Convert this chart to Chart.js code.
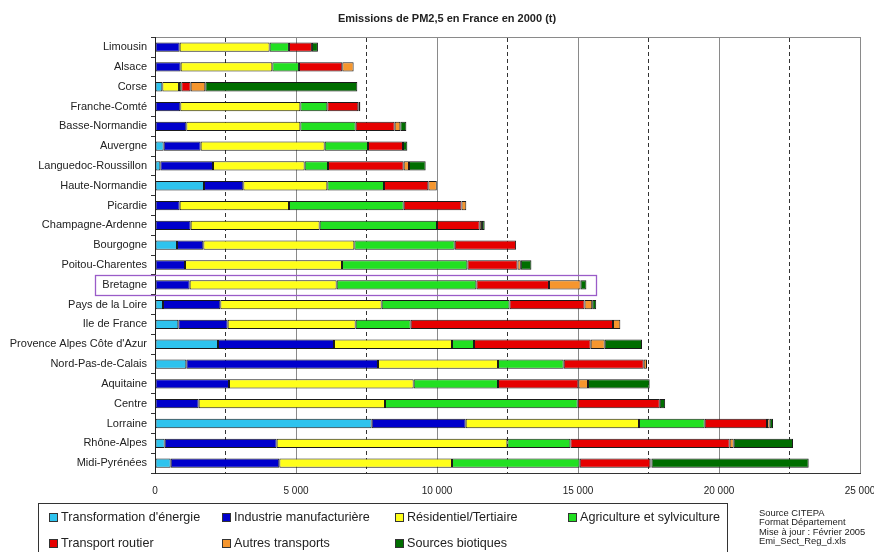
<!DOCTYPE html>
<html>
<head>
<meta charset="utf-8">
<script src="https://cdn.jsdelivr.net/npm/chart.js@4.4.1/dist/chart.umd.min.js"></script>
<style>
  html, body { margin:0; padding:0; background:#fff; overflow:hidden; width:874px; height:552px; }
  #wrap { position:relative; width:874px; height:552px; }
  canvas { position:absolute; left:0; top:0; }
  #legend { position:absolute; left:38px; top:503px; width:690px; height:60px; border:1px solid #333;
            box-sizing:border-box; padding:0 0 0 10px; display:grid; grid-template-columns:repeat(4,173px);
            grid-auto-rows:26px; font-family:"Liberation Sans", Arial, sans-serif; font-size:12.6px; color:#222; }
  #legend .it { display:flex; align-items:center; white-space:nowrap; }
  #legend .sw { width:7px; height:7px; border:1px solid #333; margin-right:3px; flex:none; }
  #source { position:absolute; left:759px; top:508px; font-family:"Liberation Sans", Arial, sans-serif;
            font-size:9.4px; line-height:9.4px; color:#222; white-space:nowrap; }
</style>
</head>
<body>
<div id="wrap">
  <canvas id="c" width="874" height="552"></canvas>
  <div id="legend"></div>
  <div id="source"></div>
</div>
<script>
const chartTitle = "Emissions de PM2,5 en France en 2000 (t)";
const regions = ["Limousin","Alsace","Corse","Franche-Comté","Basse-Normandie","Auvergne","Languedoc-Roussillon",
  "Haute-Normandie","Picardie","Champagne-Ardenne","Bourgogne","Poitou-Charentes","Bretagne","Pays de la Loire",
  "Ile de France","Provence Alpes Côte d'Azur","Nord-Pas-de-Calais","Aquitaine","Centre","Lorraine","Rhône-Alpes","Midi-Pyrénées"];
const seriesNames = ["Transformation d'énergie","Industrie manufacturière","Résidentiel/Tertiaire",
  "Agriculture et sylviculture","Transport routier","Autres transports","Sources biotiques"];
const seriesColors = ["#2EC3EE","#0000CC","#FFFF1A","#22E022","#E60000","#F5962E","#006E00"];

const transformationEnergie = [0,0,260,0,0,307,189,1738,0,0,780,0,0,284,827,2234,1111,0,0,7683,343,556];
const industrieManufacturiere = [875,910,0,898,1111,1312,1868,1394,875,1265,934,1064,1229,2033,1750,4114,6797,2624,1548,3334,3971,3853];
const residentielTertiaire = [3190,3250,590,4256,4043,4398,3250,2979,3877,4574,5355,5567,5213,5721,4539,4184,4255,6549,6608,6146,8182,6123];
const agricultureSylviculture = [685,945,83,957,1962,1536,828,2010,4067,4161,3559,4447,4955,4533,1950,780,2330,2990,6834,2330,2234,4528];
const transportRoutier = [815,1537,331,1099,1383,1241,2683,1572,2050,1514,2177,1777,2574,2661,7175,4138,2837,2851,2910,2209,5649,2507];
const autresTransports = [0,402,520,0,201,0,189,300,170,80,0,118,1121,272,260,497,117,341,0,95,142,40];
const sourcesBiotiques = [213,0,5390,71,213,154,591,0,0,97,0,375,206,141,0,1323,0,2186,190,118,2103,5573];

const xTickValues = [0,5000,10000,15000,20000,25000];
const xMinorTickValues = [2500,7500,12500,17500,22500];
const highlightRegion = "Bretagne";
const highlightEnd = 15650;
const sourceLines = ["Source CITEPA","Format Département","Mise à jour : Février 2005","Emi_Sect_Reg_d.xls"];

const seriesValues = [transformationEnergie, industrieManufacturiere, residentielTertiaire,
  agricultureSylviculture, transportRoutier, autresTransports, sourcesBiotiques];

const FONT = '"Liberation Sans", Arial, sans-serif';

const highlightPlugin = {
  id: 'highlight',
  afterLayout(chart) {
    chart.scales.y._computeLabelArea = () => undefined;
  },
  afterDatasetsDraw(chart) {
    const ys = chart.scales.y, xs = chart.scales.x, ctx = chart.ctx;
    const idx = regions.indexOf(highlightRegion);
    const yc = ys.getPixelForValue(idx);
    const half = ys.height / regions.length / 2;
    ctx.save();
    ctx.font = '11px ' + FONT;
    const tw = ctx.measureText(highlightRegion).width;
    const left = ys.right - 8 - tw - 7;
    const right = xs.getPixelForValue(highlightEnd);
    ctx.strokeStyle = '#9A5CC8';
    ctx.lineWidth = 1.3;
    ctx.strokeRect(Math.round(left)+0.5, Math.round(yc - half)+0.5, Math.round(right-left), Math.round(2*half));
    ctx.restore();
  }
};

const fixPad = s => { s.paddingLeft = 0; s.paddingRight = 14; };

const chart = new Chart(document.getElementById('c'), {
  type: 'bar',
  data: {
    labels: regions,
    datasets: seriesNames.map((n,i) => ({
      label: n, data: seriesValues[i], backgroundColor: seriesColors[i],
      borderColor: '#1a1a1a', borderWidth: 1, borderSkipped: false,
      categoryPercentage: 1.0, barPercentage: 0.47
    }))
  },
  options: {
    indexAxis: 'y',
    responsive: false,
    animation: false,
    devicePixelRatio: 1,
    layout: { padding: { left: 20, right: 0, top: 0, bottom: 0 } },
    plugins: {
      legend: { display: false },
      tooltip: { enabled: false },
      title: { display: true, text: chartTitle, color: '#222',
               font: { family: FONT, size: 11, weight: 'bold' }, padding: { top: 12, bottom: 12 } }
    },
    scales: {
      x: {
        type: 'linear', stacked: true, min: 0, max: 25000, position: 'bottom',
        afterBuildTicks: s => { s.ticks = xTickValues.map(v => ({ value: v })); },
        afterFit: s => { s.height = 79; fixPad(s); },
        ticks: { color: '#222', font: { family: FONT, size: 10 }, padding: 12, maxRotation: 0,
                 callback: v => v === 0 ? '0' : (v/1000) + ' 000' },
        grid: { color: '#8a8a8a', lineWidth: 1, drawTicks: false },
        border: { display: true, color: '#333', width: 1 }
      },
      x2: {
        type: 'linear', min: 0, max: 25000, position: 'top',
        afterBuildTicks: s => { s.ticks = xMinorTickValues.map(v => ({ value: v })); },
        afterFit: s => { fixPad(s); },
        ticks: { display: false },
        grid: { color: '#333', lineWidth: 1, drawTicks: false },
        border: { display: true, color: '#8a8a8a', width: 1, dash: [4,3] }
      },
      y: {
        stacked: true,
        afterFit: s => { s.width = 135; },
        ticks: { color: '#222', font: { family: FONT, size: 11 }, padding: 4, autoSkip: false },
        grid: { drawOnChartArea: false, tickLength: 4, color: '#333', offset: true },
        border: { display: true, color: '#222', width: 1 }
      }
    }
  },
  plugins: [highlightPlugin]
});

const lg = document.getElementById('legend');
chart.data.datasets.forEach((ds) => {
  const it = document.createElement('div'); it.className = 'it';
  const sw = document.createElement('span'); sw.className = 'sw'; sw.style.background = ds.backgroundColor;
  const tx = document.createElement('span'); tx.textContent = ds.label;
  it.appendChild(sw); it.appendChild(tx); lg.appendChild(it);
});
const src = document.getElementById('source');
sourceLines.forEach(l => { const d = document.createElement('div'); d.textContent = l; src.appendChild(d); });
</script>
</body>
</html>
